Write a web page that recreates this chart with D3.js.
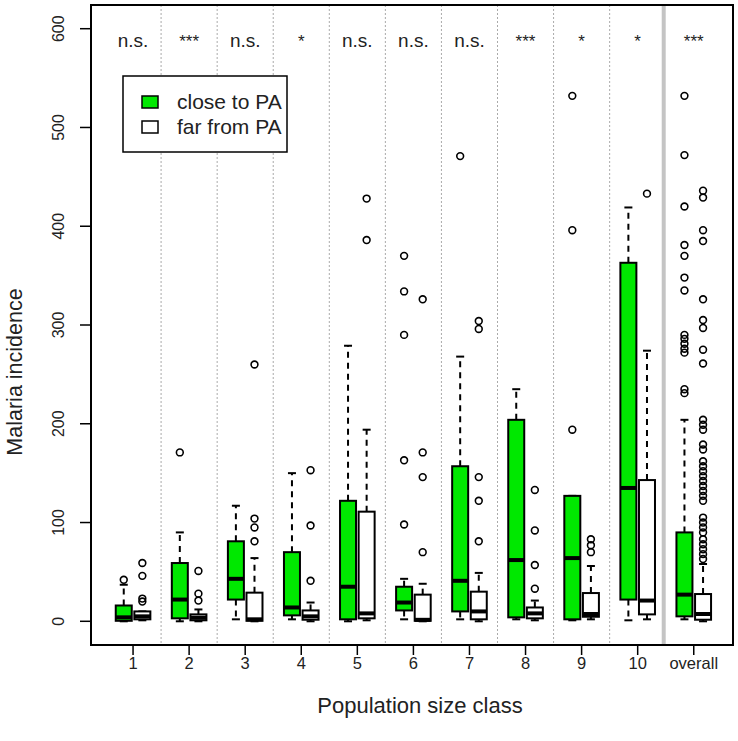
<!DOCTYPE html>
<html><head><meta charset="utf-8">
<script src="https://cdn.jsdelivr.net/npm/d3@7"></script>
<style>body{margin:0;background:#fff}svg{display:block;font-family:"Liberation Sans",Arial,sans-serif}</style>
</head><body><svg id="c" width="738" height="741"></svg>
<script>
const categories = ["1","2","3","4","5","6","7","8","9","10","overall"];
const sigLabels = ["n.s.","***","n.s.","*","n.s.","n.s.","n.s.","***","*","*","***"];
const yTicks = [0,100,200,300,400,500,600];
// [lower whisker, Q1, median, Q3, upper whisker]
const closeStats = [
  [0,0.5,4,16,37],[0,3,22,59,90],[2,22,43,81,117],[2,6,14,70,150],[0,2,35,122,279],
  [2,11,19,35,43],[2,10,41,157,268],[2,4,62,204,235],[1,2,64,127,127],[1,22,135,363,419],
  [2,5,27,90,204]
];
const closeOutliers = [
  [42],[171],[],[],[],[98,163,290,334,370],[471],[],[194,396,532],[],
  [231,235,272,276,281,286,290,335,348,370,381,420,472,532]
];
const farStats = [
  [1,2,5,10,10],[0,1,3.6,7,12],[0,0.5,2,29,64],[0,1.6,5,11,19],[1,3,8,111,194],
  [0,0.5,1.5,27,38],[0,2,10,30,49],[1,3,8,14,21],[2,4.6,7.4,28.6,56],[2,7,21,143,274],
  [0,1.6,7.4,27.6,58]
];
const farOutliers = [
  [20,23,46,59],[21,28,51],[81,95,104,260],[41,97,153],[386,428],[70,146,171,326],
  [81,122,146,296,304],[33,57,92,133],[70,77,83],[433],
  [63,68,73,78,83,90,95,100,105,122,127,132,137,142,147,152,157,162,174,179,194,199,204,261,275,297,305,326,385,396,429,436]
];
const seriesNames = ["close to PA","far from PA"];
const seriesColors = ["#00e800","#ffffff"];

const L=91,R=733,T=5,B=645;
const svg=d3.select("#c");
const x=d3.scaleLinear().domain([0.25,11.7]).range([L,R]);
const y=d3.scaleLinear().domain([-24,624]).range([B,T]);
const off=9.3, bw=16, cap=8;

// separators
const g0=svg.append("g");
d3.range(1,10).forEach(i=>{
  g0.append("line").attr("x1",x(i+0.5)).attr("x2",x(i+0.5)).attr("y1",T).attr("y2",B)
    .attr("stroke","#aaa").attr("stroke-width",1).attr("stroke-dasharray","2,2");
});
g0.append("line").attr("x1",x(10.5)-2).attr("x2",x(10.5)-2).attr("y1",T).attr("y2",B)
  .attr("stroke","#c4c4c4").attr("stroke-width",4);

function drawBox(g,cx,s,outs,fill){
  const [lo,q1,md,q3,hi]=s;
  const dash="6,5";
  if(hi>q3){
    g.append("line").attr("x1",cx).attr("x2",cx).attr("y1",y(q3)).attr("y2",y(hi)).attr("stroke","#000").attr("stroke-width",2).attr("stroke-dasharray",dash);
  }
  g.append("line").attr("x1",cx-cap/2).attr("x2",cx+cap/2).attr("y1",y(hi)).attr("y2",y(hi)).attr("stroke","#000").attr("stroke-width",2);
  if(lo<q1){
    g.append("line").attr("x1",cx).attr("x2",cx).attr("y1",y(q1)).attr("y2",y(lo)).attr("stroke","#000").attr("stroke-width",2).attr("stroke-dasharray",dash);
  }
  g.append("line").attr("x1",cx-cap/2).attr("x2",cx+cap/2).attr("y1",y(lo)).attr("y2",y(lo)).attr("stroke","#000").attr("stroke-width",2);
  g.append("rect").attr("x",cx-bw/2).attr("y",y(q3)).attr("width",bw).attr("height",Math.max(0.5,y(q1)-y(q3)))
    .attr("fill",fill).attr("stroke","#000").attr("stroke-width",2);
  g.append("line").attr("x1",cx-bw/2).attr("x2",cx+bw/2).attr("y1",y(md)).attr("y2",y(md)).attr("stroke","#000").attr("stroke-width",4);
  outs.forEach(v=>{
    g.append("circle").attr("cx",cx).attr("cy",y(v)).attr("r",3.4).attr("fill","none").attr("stroke","#000").attr("stroke-width",1.6);
  });
}
const gb=svg.append("g");
categories.forEach((c,i)=>{
  drawBox(gb,x(i+1)-off,closeStats[i],closeOutliers[i],seriesColors[0]);
  drawBox(gb,x(i+1)+off,farStats[i],farOutliers[i],seriesColors[1]);
});

// significance
categories.forEach((c,i)=>{
  svg.append("text").attr("x",x(i+1)).attr("y",47).attr("text-anchor","middle")
    .attr("font-size",sigLabels[i].startsWith("*")?17:19).attr("fill","#222").text(sigLabels[i]);
});

// border
svg.append("rect").attr("x",L).attr("y",T).attr("width",R-L).attr("height",B-T).attr("fill","none").attr("stroke","#000").attr("stroke-width",2);

// y axis
const ya=svg.append("g");
yTicks.forEach(t=>{
  ya.append("line").attr("x1",L-11).attr("x2",L).attr("y1",y(t)).attr("y2",y(t)).attr("stroke","#000").attr("stroke-width",1.5);
  ya.append("text").attr("transform",`translate(${L-27},${y(t)}) rotate(-90)`).attr("text-anchor","middle")
    .attr("font-size",16).attr("fill","#222").text(t);
});
// x axis
categories.forEach((c,i)=>{
  svg.append("line").attr("x1",x(i+1)).attr("x2",x(i+1)).attr("y1",B).attr("y2",B+10).attr("stroke","#000").attr("stroke-width",1.5);
  svg.append("text").attr("x",x(i+1)).attr("y",B+18).attr("dy","0.35em").attr("text-anchor","middle")
    .attr("font-size",c==="overall"?16.5:16.5).attr("fill","#222").text(c);
});
svg.append("text").attr("x",420).attr("y",713).attr("text-anchor","middle").attr("font-size",22).attr("fill","#222").text("Population size class");
svg.append("text").attr("transform",`translate(22,372) rotate(-90)`).attr("text-anchor","middle").attr("font-size",21.5).attr("fill","#222").text("Malaria incidence");

// legend
const lg=svg.append("g");
lg.append("rect").attr("x",123).attr("y",76).attr("width",164).attr("height",76).attr("fill","#fff").attr("stroke","#000").attr("stroke-width",1.5);
seriesNames.forEach((n,i)=>{
  lg.append("rect").attr("x",142).attr("y",96+i*25).attr("width",16).attr("height",12).attr("fill",seriesColors[i]).attr("stroke","#000").attr("stroke-width",1.5);
  lg.append("text").attr("x",177).attr("y",102+i*25).attr("dy","0.35em").attr("font-size",21).attr("fill","#222").text(n);
});
</script></body></html>
